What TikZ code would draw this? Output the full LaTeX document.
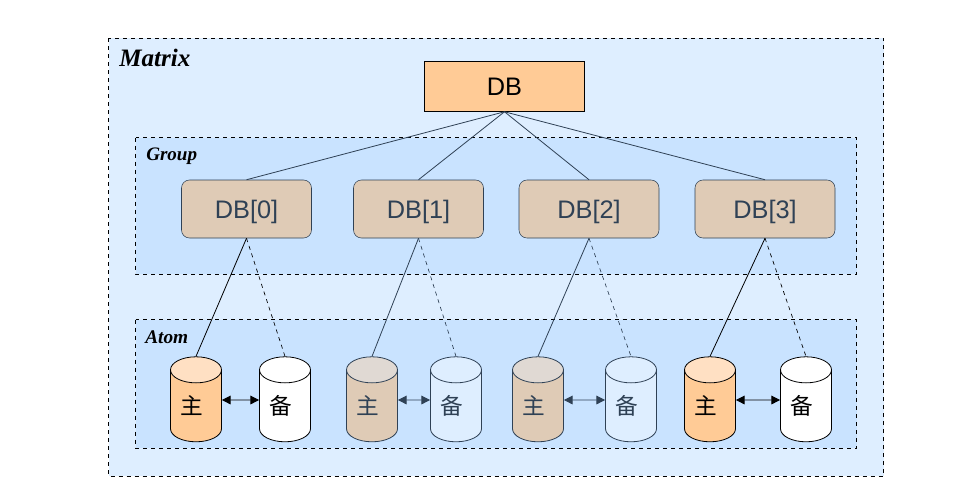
\documentclass[tikz,border=0pt]{standalone}
\usepackage{fontspec}
\setmainfont{Liberation Sans}
\newfontfamily\titlefont{Liberation Serif}
\newfontfamily\cjkfont{Noto Sans CJK SC}
\usetikzlibrary{shapes.geometric, arrows.meta}
\definecolor{matrixblue}{HTML}{DEEEFF}
\definecolor{groupblue}{HTML}{C9E3FF}
\definecolor{dborange}{HTML}{FFCB96}
\definecolor{dbtan}{HTML}{DFCBB6}
\definecolor{toporange}{HTML}{FFE0C3}
\definecolor{toptan}{HTML}{E0D9D3}
\definecolor{slate}{HTML}{2F4155}
\newcommand{\cyltext}[1]{\raisebox{-3pt}{#1\hspace{6pt}}}
\tikzset{
  frame/.style={draw=black, dashed, line width=0.6pt},
  title/.style={font=\titlefont\bfseries\itshape\fontsize{#1}{#1}\selectfont, text=black, inner sep=0pt, anchor=west},
  dbnode/.style={draw=slate, fill=dbtan, rounded corners=6pt, text=slate, minimum width=97.5pt, minimum height=43.5pt, inner sep=0pt, text height=13.6pt, text depth=0pt, font=\fontsize{19}{19}\selectfont},
  cyl/.style n args={3}{shape=cylinder, shape border rotate=90, aspect=0.85, draw=#3, text=#3, cylinder uses custom fill, cylinder body fill=#1, cylinder end fill=#2, minimum width=38.25pt, minimum height=63.75pt, inner sep=0pt, line width=0.6pt, font=\cjkfont\fontsize{17}{17}\selectfont},
  link/.style={draw=#1, line width=0.6pt},
  link/.default=slate,
  standby/.style={draw=#1, line width=0.5pt, dashed},
  standby/.default=slate,
  sync/.style={draw=#1, line width=0.6pt, {Triangle[length=6.5pt,width=6.5pt]}-{Triangle[length=6.5pt,width=6.5pt]}}
}
\begin{document}
\begin{tikzpicture}[x=0.75pt, y=-0.75pt]
  \useasboundingbox (0, 0) rectangle (967, 494);

  % Nested frames
  \draw[frame, fill=matrixblue] (108.5, 38) rectangle (883.5, 476);
  \draw[frame, fill=groupblue] (135.5, 137.5) rectangle (856.5, 274);
  \draw[frame, fill=groupblue] (135.5, 319.5) rectangle (856.5, 448);
  \node[title=18.8] (matrixlabel) at (119, 58) {Matrix};
  \node[title=14.3] (grouplabel) at (146, 156) {Group};
  \node[title=14.5] (atomlabel) at (145, 337) {Atom};

  % Top level
  \node[draw=black, fill=dborange, minimum width=120pt, minimum height=37.5pt, inner sep=0pt, font=\fontsize{19}{19}\selectfont] (db) at (504.5, 86.5) {DB};

  % Group level
  \node[dbnode] (db0) at (246.5, 209) {DB[0]};
  \node[dbnode] (db1) at (418.5, 209) {DB[1]};
  \node[dbnode, minimum width=105pt] (db2) at (589, 209) {DB[2]};
  \node[dbnode, minimum width=105pt] (db3) at (765, 209) {DB[3]};

  % Atom level
  \node[cyl={dborange}{toporange}{black}] (m0) at (196, 406) {\cyltext{主}};
  \node[cyl={white}{white}{black}] (s0) at (285, 406) {\cyltext{备}};
  \node[cyl={dbtan}{toptan}{slate}] (m1) at (372, 406) {\cyltext{主}};
  \node[cyl={matrixblue}{matrixblue}{slate}] (s1) at (456, 406) {\cyltext{备}};
  \node[cyl={dbtan}{toptan}{slate}] (m2) at (538, 406) {\cyltext{主}};
  \node[cyl={matrixblue}{matrixblue}{slate}] (s2) at (631, 406) {\cyltext{备}};
  \node[cyl={dborange}{toporange}{black}] (m3) at (710, 406) {\cyltext{主}};
  \node[cyl={white}{white}{black}] (s3) at (806, 406) {\cyltext{备}};

  % Connectors
  \foreach \i in {0, 1, 2, 3} {
    \draw[link] (db.south) -- (db\i.north);
  }
  \draw[link=black] (db0.south) -- (m0.north);
  \draw[standby=black] (db0.south) -- (s0.north);
  \draw[link] (db1.south) -- (m1.north);
  \draw[standby] (db1.south) -- (s1.north);
  \draw[link] (db2.south) -- (m2.north);
  \draw[standby] (db2.south) -- (s2.north);
  \draw[link=black] (db3.south) -- (m3.north);
  \draw[standby=black] (db3.south) -- (s3.north);
  \draw[sync=black] ([yshift=4.5pt]m0.east) -- ([yshift=4.5pt]s0.west);
  \draw[sync=slate] ([yshift=4.5pt]m1.east) -- ([yshift=4.5pt]s1.west);
  \draw[sync=slate] ([yshift=4.5pt]m2.east) -- ([yshift=4.5pt]s2.west);
  \draw[sync=black] ([yshift=4.5pt]m3.east) -- ([yshift=4.5pt]s3.west);
\end{tikzpicture}
\end{document}
